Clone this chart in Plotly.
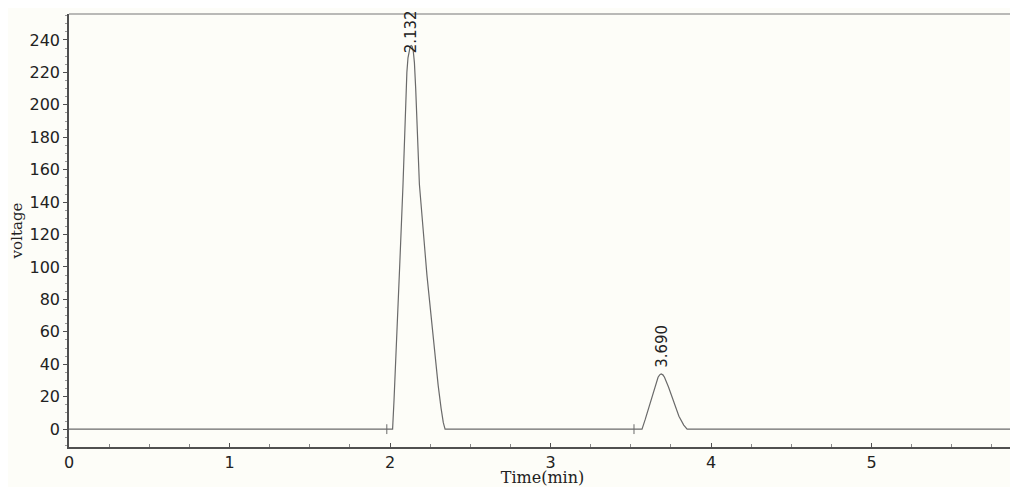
import plotly.graph_objects as go

# Chromatogram trace (time in min, detector voltage)
time_min = [0.0, 1.98, 2.016, 2.025, 2.04, 2.06, 2.081, 2.095, 2.105, 2.112, 2.120, 2.126, 2.132, 2.138,
            2.145, 2.152, 2.160, 2.170, 2.183, 2.23, 2.275, 2.30, 2.318, 2.332, 2.343, 3.52, 3.570,
            3.59, 3.61, 3.626, 3.65, 3.67, 3.68, 3.689, 3.70, 3.71, 3.735, 3.767, 3.80, 3.83, 3.851, 5.9]
voltage = [0.0, 0.0, 0.0, 18.0, 50.0, 100.0, 151.0, 196.0, 220.0, 229.0, 234.0, 236.0, 236.5, 236.0,
           233.0, 226.0, 210.0, 185.0, 151.0, 95.0, 50.0, 27.0, 13.0, 4.0, 0.0, 0.0, 0.0,
           6.0, 12.5, 17.0, 26.0, 32.0, 33.5, 34.0, 33.5, 32.0, 26.0, 17.0, 8.0, 2.5, 0.0, 0.0]

# Integration start markers
marker_times = [1.98, 3.52]
marker_values = [0.0, 0.0]

# Peak labels
peak_times = [2.132, 3.690]
peak_heights = [236.5, 34.0]
peak_labels = ["2.132", "3.690"]

x_ticks = [0, 1, 2, 3, 4, 5]
y_ticks = [0, 20, 40, 60, 80, 100, 120, 140, 160, 180, 200, 220, 240]

line_col = "#6a6a6a"
axis_col = "#505050"
bg = "#fdfdf8"
sans = "DejaVu Sans, Liberation Sans, Arial"
serif = "DejaVu Serif, Liberation Serif, Times New Roman"

fig = go.Figure()
fig.add_trace(go.Scatter(x=time_min, y=voltage, mode="lines",
                         line=dict(color=line_col, width=1.2), hoverinfo="skip"))
fig.add_trace(go.Scatter(x=marker_times, y=marker_values, mode="markers",
                         marker=dict(symbol="line-ns", size=7,
                                     line=dict(color=line_col, width=1)),
                         hoverinfo="skip"))

label_shift = [-10, 4]
for t, h, lab, s in zip(peak_times, peak_heights, peak_labels, label_shift):
    fig.add_annotation(x=t, y=h, text=lab, textangle=-90, showarrow=False,
                       xanchor="center", yanchor="bottom", yshift=s,
                       font=dict(family=sans, size=15, color="#222"))

fig.update_layout(
    width=1010, height=479,
    margin=dict(l=61, r=2, t=6, b=40),
    paper_bgcolor=bg, plot_bgcolor=bg,
    showlegend=False,
    xaxis=dict(range=[0, 5.9], tickvals=x_ticks, ticktext=[str(v) for v in x_ticks],
               ticks="inside", ticklen=4, tickcolor=axis_col,
               minor=dict(dtick=0.25, ticks="inside", ticklen=3, tickcolor="#888"),
               showline=True, linecolor=axis_col, linewidth=1.5, mirror=False,
               showgrid=False, zeroline=False, automargin=False,
               tickfont=dict(family=sans, size=16, color="#222"),
               title=dict(text="Time(min)", standoff=0,
                          font=dict(family=serif, size=16, color="#222"))),
    yaxis=dict(range=[-11, 256], tickvals=y_ticks, ticktext=[str(v) for v in y_ticks],
               ticks="outside", ticklen=4, tickcolor=axis_col,
               minor=dict(dtick=5, ticks="outside", ticklen=2, tickcolor="#999"),
               showline=True, linecolor=axis_col, linewidth=1.5,
               showgrid=False, zeroline=False, automargin=False,
               tickfont=dict(family=sans, size=16, color="#222"),
               title=dict(text="voltage", standoff=6,
                          font=dict(family=serif, size=15, color="#222"))),
)
# top frame line
fig.add_shape(type="line", xref="paper", yref="paper", x0=0, x1=1, y0=1, y1=1,
              line=dict(color="#777", width=1.2))

fig.write_html("out.html")
